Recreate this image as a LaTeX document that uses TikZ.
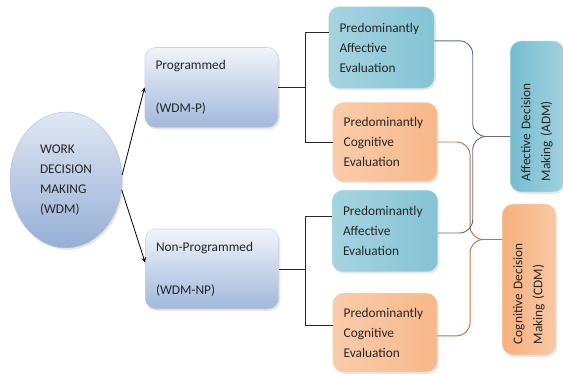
\documentclass[tikz,border=0pt]{standalone}
\usepackage{fontspec}
\setmainfont{Carlito}
\usetikzlibrary{shadows,shapes.geometric}
\definecolor{wdmblue}{RGB}{150,175,214}
\definecolor{progblue}{RGB}{160,184,219}
\definecolor{affteal}{RGB}{118,189,208}
\definecolor{cogorange}{RGB}{247,176,124}
\definecolor{admline}{RGB}{88,110,148}
\definecolor{cdmline}{RGB}{192,116,62}

\begin{document}
\begin{tikzpicture}[
    x=0.75pt, y=-0.75pt,
    txt/.style={font=\fontsize{10}{15}\selectfont, text=black!85},
    box/.style={txt, rectangle, rounded corners=8pt, align=left, inner xsep=8pt,
        drop shadow={opacity=0.18, shadow xshift=1.2pt, shadow yshift=-1.5pt}},
    wdm/.style={txt, ellipse, minimum width=84pt, minimum height=102pt, align=left,
        top color=wdmblue!30, bottom color=wdmblue, draw=wdmblue!70,
        drop shadow={opacity=0.18, shadow xshift=1.2pt, shadow yshift=-1.5pt}},
    kind/.style={box, minimum width=100pt, minimum height=60pt, text width=84pt,
        top color=progblue!15, bottom color=progblue, draw=progblue!60},
    affective/.style={box, minimum width=79pt, minimum height=61pt, text width=63pt,
        left color=affteal!65, middle color=affteal!20, right color=affteal!90, draw=affteal!60},
    cognitive/.style={box, minimum width=78pt, minimum height=59pt, text width=62pt,
        left color=cogorange!65, middle color=cogorange!20, right color=cogorange!90, draw=cogorange!60},
    outcome/.style={box, rotate=90, minimum width=113pt, minimum height=40pt, text width=97pt},
    arrow/.style={->, line width=0.6pt, >=stealth},
    link/.style={line width=0.6pt, black!85},
    admlink/.style={line width=0.7pt, admline, rounded corners=10pt},
    cdmlink/.style={line width=0.7pt, cdmline, rounded corners=10pt}
]

% Background
\useasboundingbox (0,0) rectangle (563,375);
\fill[white] (0,0) rectangle (563,375);

% Work decision making
\node[wdm] (wdm) at (66,180) {WORK\\DECISION\\MAKING\\(WDM)};

% Programmed / non-programmed
\node[kind] (prog) at (211.5,87.5) {Programmed\\[17pt](WDM-P)};
\node[kind] (nonprog) at (212,269) {Non-Programmed\\[17pt](WDM-NP)};

% Evaluations
\node[affective] (pa1) at (381.5,47.5) {Predominantly\\Affective\\Evaluation};
\node[cognitive] (pc1) at (385,142) {Predominantly\\Cognitive\\Evaluation};
\node[affective] (pa2) at (385,231) {Predominantly\\Affective\\Evaluation};
\node[cognitive] (pc2) at (385,332.5) {Predominantly\\Cognitive\\Evaluation};

% Decision making outcomes
\node[outcome, left color=affteal, middle color=affteal!20, right color=affteal!70, draw=affteal!60]
    (adm) at (537,116.5) {Affective Decision\\Making (ADM)};
\node[outcome, left color=cogorange, middle color=cogorange!20, right color=cogorange!70, draw=cogorange!60]
    (cdm) at (529,279.5) {Cognitive Decision\\Making (CDM)};
\coordinate (admin) at ([yshift=-15pt]adm.north);
\coordinate (cdmin) at ([yshift=30pt]cdm.north);

% Arrows from WDM
\draw[arrow] (wdm.5) -- (prog.west);
\draw[arrow] (wdm.-10) -- ([yshift=5pt]nonprog.west);

% Branches to evaluations
\draw[link] (prog.east) -- ++(27,0) coordinate (progjoin);
\draw[link] ([yshift=11pt]pa1.west) -| (progjoin) |- (pc1.west);
\draw[link] (nonprog.east) -- ++(26,0) coordinate (npjoin);
\draw[link] ([yshift=11pt]pa2.west) -| (npjoin) |- ([yshift=5.5pt]pc2.west);

% Evaluations to outcomes
\draw[cdmlink] (pc1.east) -| ([xshift=-24pt]cdmin) -- (cdmin);
\draw[cdmlink] ([yshift=-2.5pt]pc2.east) -| ([xshift=-24pt]cdmin) -- (cdmin);
\draw[admlink] ([yshift=5pt]pa1.east) -| ([xshift=-28pt]admin) -- (admin);
\draw[admlink] ([yshift=-1.5pt]pa2.east) -| ([xshift=-28pt]admin) -- (admin);

\end{tikzpicture}
\end{document}
